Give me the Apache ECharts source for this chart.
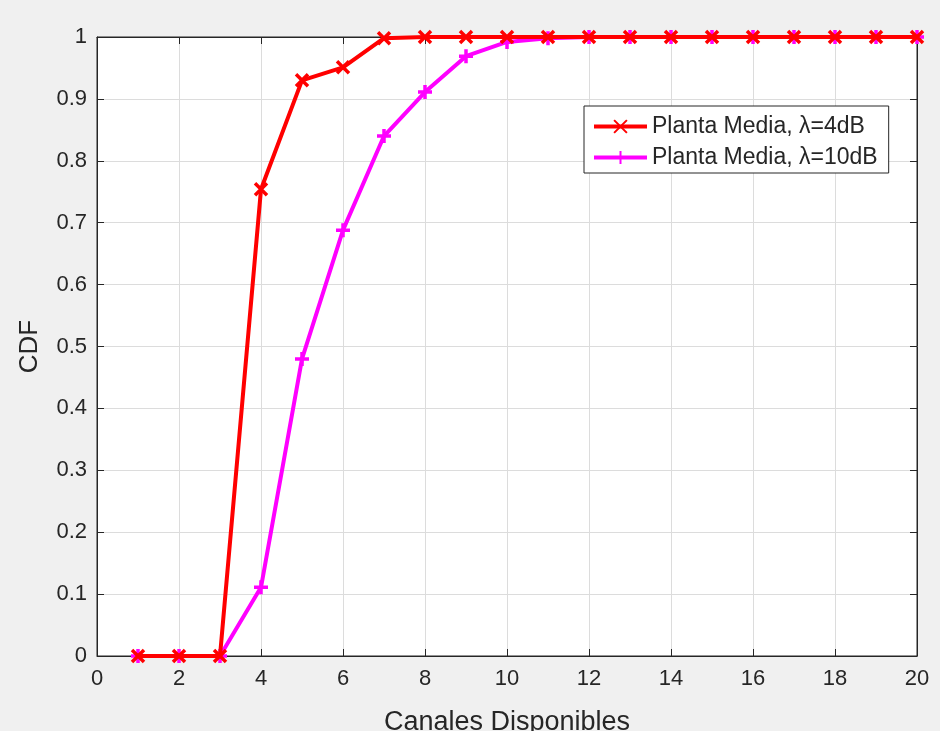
<!DOCTYPE html>
<html>
<head>
<meta charset="utf-8">
<script src="https://cdn.jsdelivr.net/npm/echarts@6/dist/echarts.min.js"></script>
<style>
html,body{margin:0;padding:0;background:#f0f0f0;}
#c{width:940px;height:731px;}
</style>
</head>
<body>
<div id="c"></div>
<script>
const xValues = [1,2,3,4,5,6,7,8,9,10,11,12,13,14,15,16,17,18,19,20];
const cdf4dB  = [0,0,0,0.754,0.930,0.951,0.998,1,1,1,1,1,1,1,1,1,1,1,1,1];
const cdf10dB = [0,0,0,0.111,0.480,0.688,0.840,0.911,0.969,0.992,0.998,1,1,1,1,1,1,1,1,1];
const seriesNames = ['Planta Media, \u03bb=4dB', 'Planta Media, \u03bb=10dB'];
const xLabel = 'Canales Disponibles';
const yLabel = 'CDF';

const font = '"Liberation Sans", Arial, sans-serif';
const txt = '#262626';
const chart = echarts.init(document.getElementById('c'));
const pair = (xs, ys) => xs.map((x, i) => [x, ys[i]]);
const xMark = 'path://M0,0L10,10M10,0L0,10';
const plusMark = 'path://M5,0L5,10M0,5L10,5';

const baseX = { type: 'value', min: 0, max: 20, interval: 2 };
const baseY = { type: 'value', min: 0, max: 1, interval: 0.1 };
const lineCommon = { show: true, onZero: false, lineStyle: { color: txt, width: 1 } };
const tickCommon = { show: true, inside: true, length: 7, lineStyle: { color: txt } };

chart.setOption({
  backgroundColor: '#f0f0f0',
  animation: false,
  textStyle: { fontFamily: font },
  grid: { left: 97, top: 37, width: 820, height: 619, containLabel: false, outerBoundsMode: 'none',
          show: true, backgroundColor: '#ffffff', borderColor: txt, borderWidth: 1 },
  legend: {
    left: 584, top: 106, orient: 'vertical',
    backgroundColor: '#ffffff', borderColor: txt, borderWidth: 1, borderRadius: 0,
    padding: [9, 11, 4, 8], itemGap: 8, itemWidth: 53, itemHeight: 16,
    lineStyle: { width: 4 },
    textStyle: { fontFamily: font, fontSize: 23, lineHeight: 23, color: txt },
    data: seriesNames
  },
  xAxis: [
    Object.assign({}, baseX, {
      position: 'bottom',
      name: xLabel, nameLocation: 'middle', nameGap: 53,
      nameTextStyle: { fontFamily: font, fontSize: 27, color: txt },
      axisLine: lineCommon,
      axisTick: tickCommon,
      axisLabel: { fontFamily: font, fontSize: 22, color: txt, margin: 12 },
      splitLine: { show: true, lineStyle: { color: '#dcdcdc', width: 1 } }
    }),
    Object.assign({}, baseX, {
      position: 'top',
      axisLine: lineCommon,
      axisTick: tickCommon,
      axisLabel: { show: false },
      splitLine: { show: false }
    })
  ],
  yAxis: [
    Object.assign({}, baseY, {
      position: 'left',
      name: yLabel, nameLocation: 'middle', nameGap: 54, nameRotate: 90,
      nameTextStyle: { fontFamily: font, fontSize: 26, color: txt },
      axisLine: lineCommon,
      axisTick: tickCommon,
      axisLabel: { fontFamily: font, fontSize: 22, color: txt, margin: 10 },
      splitLine: { show: true, lineStyle: { color: '#dcdcdc', width: 1 } }
    }),
    Object.assign({}, baseY, {
      position: 'right',
      axisLine: lineCommon,
      axisTick: tickCommon,
      axisLabel: { show: false },
      splitLine: { show: false }
    })
  ],
  series: [
    {
      name: seriesNames[0], type: 'line', xAxisIndex: 0, yAxisIndex: 0,
      data: pair(xValues, cdf4dB),
      lineStyle: { color: '#ff0000', width: 4 },
      symbol: xMark, symbolSize: 12, showAllSymbol: true,
      itemStyle: { color: '#ff0000', borderColor: '#ff0000', borderWidth: 3.5 },
      z: 3
    },
    {
      name: seriesNames[1], type: 'line', xAxisIndex: 0, yAxisIndex: 0,
      data: pair(xValues, cdf10dB),
      lineStyle: { color: '#ff00ff', width: 4 },
      symbol: plusMark, symbolSize: 14, showAllSymbol: true,
      itemStyle: { color: '#ff00ff', borderColor: '#ff00ff', borderWidth: 3.5 },
      z: 2
    }
  ]
});
</script>
</body>
</html>
